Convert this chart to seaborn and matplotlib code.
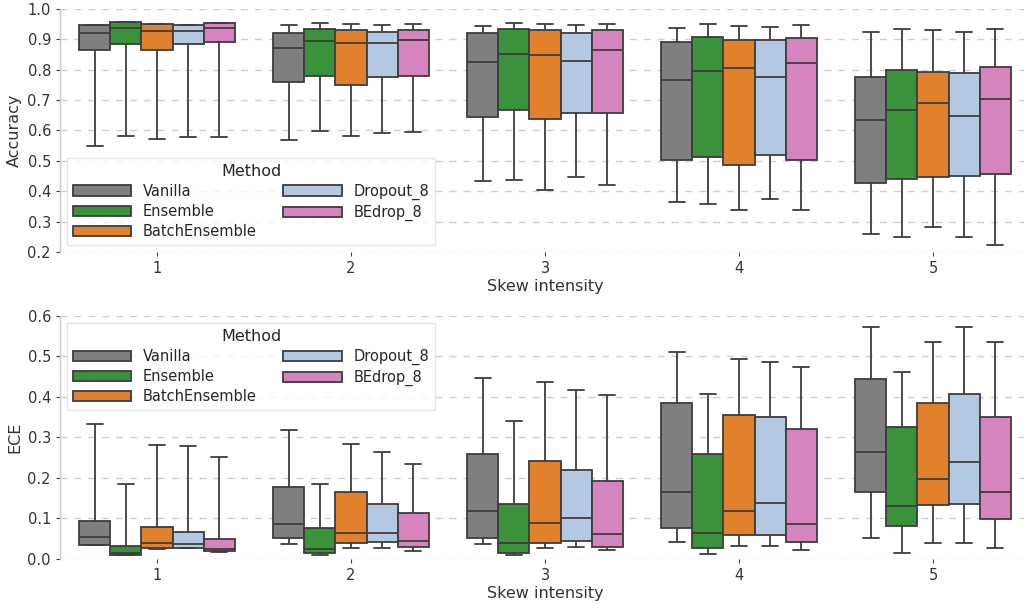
import numpy as np
import pandas as pd
import matplotlib
matplotlib.use("Agg")
import matplotlib.pyplot as plt
import seaborn as sns

methods = ["Vanilla", "Ensemble", "BatchEnsemble", "Dropout_8", "BEdrop_8"]
skews = [1, 2, 3, 4, 5]
palette = ["#7f7f7f", "#2ca02c", "#ff7f0e", "#aec7e8", "#e377c2"]

# five-number summaries (min, q1, median, q3, max),
# one row per skew intensity
acc_vanilla = [[0.548, 0.864, 0.919, 0.946, 0.948],
               [0.567, 0.759, 0.872, 0.921, 0.945],
               [0.435, 0.643, 0.826, 0.919, 0.944],
               [0.364, 0.504, 0.765, 0.889, 0.937],
               [0.260, 0.428, 0.633, 0.777, 0.922]]
acc_ensemble = [[0.581, 0.885, 0.935, 0.955, 0.956],
                [0.599, 0.780, 0.893, 0.933, 0.954],
                [0.436, 0.668, 0.850, 0.933, 0.954],
                [0.359, 0.511, 0.796, 0.906, 0.950],
                [0.250, 0.439, 0.668, 0.800, 0.934]]
acc_batchens = [[0.570, 0.865, 0.928, 0.950, 0.951],
                [0.582, 0.749, 0.888, 0.929, 0.950],
                [0.405, 0.637, 0.849, 0.929, 0.950],
                [0.338, 0.487, 0.804, 0.897, 0.944],
                [0.283, 0.447, 0.689, 0.793, 0.929]]
acc_dropout = [[0.577, 0.883, 0.928, 0.947, 0.948],
               [0.592, 0.777, 0.886, 0.923, 0.947],
               [0.448, 0.657, 0.828, 0.919, 0.946],
               [0.373, 0.519, 0.776, 0.896, 0.941],
               [0.249, 0.451, 0.647, 0.787, 0.925]]
acc_bedrop = [[0.577, 0.889, 0.935, 0.952, 0.953],
              [0.594, 0.780, 0.898, 0.931, 0.951],
              [0.419, 0.657, 0.864, 0.931, 0.951],
              [0.339, 0.501, 0.823, 0.905, 0.946],
              [0.224, 0.455, 0.702, 0.809, 0.932]]

ece_vanilla = [[0.034, 0.035, 0.054, 0.094, 0.333],
               [0.036, 0.052, 0.086, 0.177, 0.317],
               [0.037, 0.053, 0.119, 0.260, 0.446],
               [0.042, 0.076, 0.164, 0.384, 0.510],
               [0.052, 0.164, 0.265, 0.444, 0.572]]
ece_ensemble = [[0.009, 0.011, 0.016, 0.032, 0.185],
                [0.010, 0.015, 0.024, 0.076, 0.184],
                [0.011, 0.016, 0.039, 0.135, 0.340],
                [0.013, 0.028, 0.065, 0.258, 0.407],
                [0.016, 0.081, 0.131, 0.325, 0.462]]
ece_batchens = [[0.025, 0.027, 0.040, 0.080, 0.280],
                [0.027, 0.039, 0.063, 0.164, 0.284],
                [0.028, 0.039, 0.088, 0.242, 0.437],
                [0.031, 0.060, 0.118, 0.355, 0.493],
                [0.039, 0.132, 0.197, 0.385, 0.534]]
ece_dropout = [[0.026, 0.028, 0.037, 0.067, 0.279],
               [0.028, 0.041, 0.063, 0.136, 0.265],
               [0.029, 0.045, 0.102, 0.219, 0.416],
               [0.031, 0.060, 0.138, 0.351, 0.486],
               [0.039, 0.135, 0.238, 0.408, 0.572]]
ece_bedrop = [[0.017, 0.019, 0.025, 0.049, 0.252],
              [0.019, 0.029, 0.045, 0.114, 0.235],
              [0.021, 0.030, 0.061, 0.192, 0.404],
              [0.022, 0.043, 0.087, 0.321, 0.474],
              [0.027, 0.099, 0.165, 0.349, 0.536]]


def to_long(tables, value_name):
    rows = []
    for method, table in zip(methods, tables):
        for skew, vals in zip(skews, table):
            for v in vals:
                rows.append({"Skew intensity": skew, "Method": method, value_name: v})
    return pd.DataFrame(rows)


acc_df = to_long([acc_vanilla, acc_ensemble, acc_batchens, acc_dropout, acc_bedrop], "Accuracy")
ece_df = to_long([ece_vanilla, ece_ensemble, ece_batchens, ece_dropout, ece_bedrop], "ECE")

sns.set_style("ticks", {"grid.linestyle": "--", "grid.color": "#d0d0d0"})
plt.rcParams["font.family"] = ["DejaVu Sans"]

fig = plt.figure(figsize=(10.24, 6.04), dpi=100)
W, H = 1024, 604
ax1 = fig.add_axes([60 / W, (H - 252) / H, 970 / W, 243.3 / H])
ax2 = fig.add_axes([60 / W, (H - 559) / H, 970 / W, 243.3 / H])

for ax, df, col, ylim, loc in [(ax1, acc_df, "Accuracy", (0.2, 1.0), "lower left"),
                               (ax2, ece_df, "ECE", (0.0, 0.6), "upper left")]:
    sns.boxplot(data=df, x="Skew intensity", y=col, hue="Method",
                hue_order=methods, palette=palette, whis=(0, 100),
                width=0.8, linewidth=1.3, ax=ax)
    ax.set_ylim(*ylim)
    ax.set_yticks(np.round(np.arange(ylim[0], ylim[1] + 0.001, 0.1), 1))
    ax.set_xlim(-0.5, 4.5)
    ax.yaxis.grid(True, linestyle=(0, (5, 5)), linewidth=1.0, color="#d0d0d0")
    ax.set_axisbelow(True)
    sns.despine(ax=ax, bottom=True)
    ax.spines["left"].set_visible(True)
    ax.spines["left"].set_color("#c8c8c8")
    ax.spines["left"].set_linewidth(1.0)
    ax.tick_params(axis="both", labelsize=10.5, labelcolor="#333333",
                   color="#444444", length=3)
    ax.set_xlabel("Skew intensity", fontsize=11.5, color="#333333", labelpad=2)
    ax.set_ylabel(col, fontsize=11.5, color="#333333")
    handles, labels = ax.get_legend_handles_labels()
    ax.legend(handles, labels, title="Method", ncol=2, loc=loc,
              fontsize=10.5, title_fontsize=11.5, handlelength=4.0,
              columnspacing=1.8, labelspacing=0.35,
              fancybox=False, edgecolor="#e0e0e0", framealpha=0.8)

fig.savefig("out.png", dpi=100)
